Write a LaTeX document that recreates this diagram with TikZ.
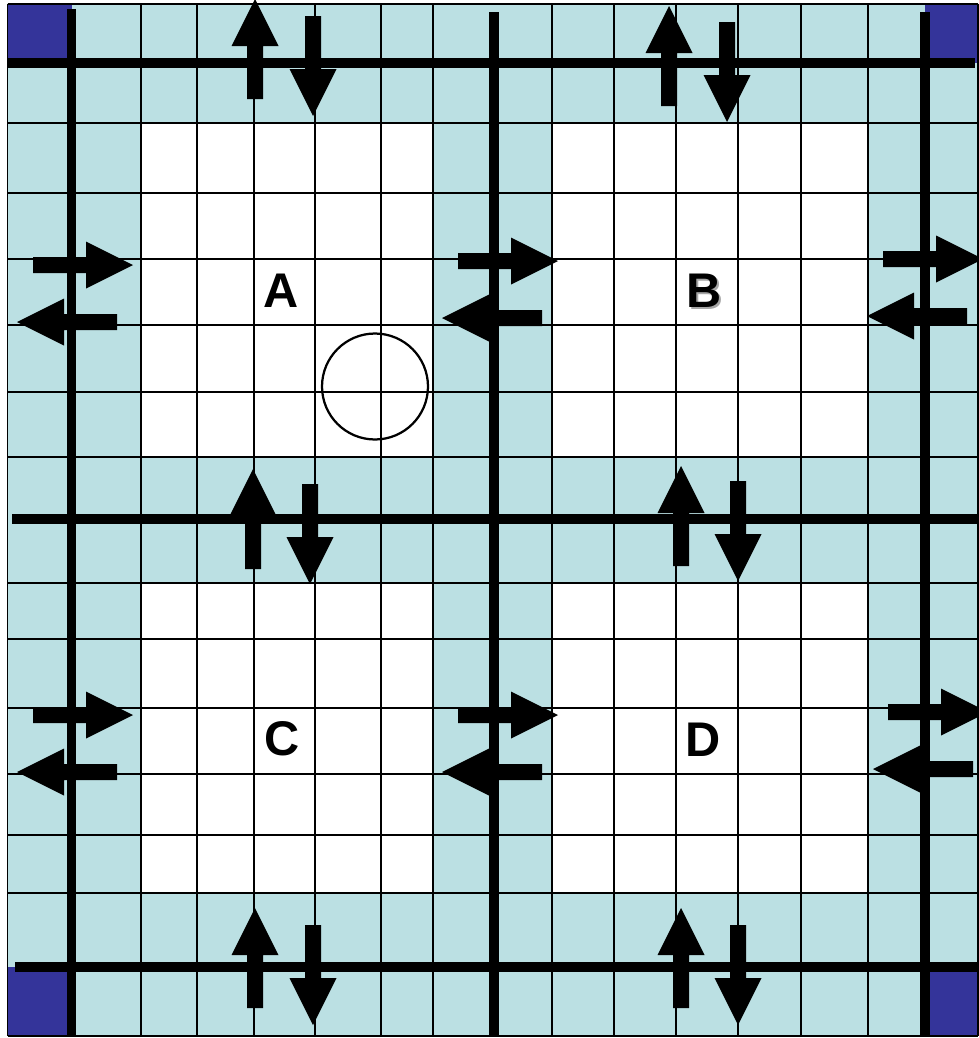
\documentclass[tikz,border=0pt]{standalone}
\usepackage{fontspec}
\setmainfont{Liberation Sans}
\usepackage{xcolor}
\definecolor{cellblue}{RGB}{187,224,227}
\definecolor{cornerblue}{RGB}{52,52,154}

\begin{document}
\begin{tikzpicture}[x=0.02cm, y=-0.02cm,
    gridline/.style={line width=0.04cm},
    wall/.style={line width=0.2cm},
    lbl/.style={font=\fontsize{27.7}{30}\selectfont\bfseries, inner sep=0pt},
    blk/.pic={\fill (0,-8) -- (53,-8) -- (53,-23.5) -- (100,0) -- (53,23.5) -- (53,8) -- (0,8) -- cycle;}
]
\useasboundingbox (0,0) rectangle (979,1038);
\clip (0,0) rectangle (979,1038);

% cells
\fill[cellblue] (7.5,3.5) rectangle (978,1036);
\fill[white] (141,122.7) rectangle (433,457);
\fill[white] (552,122.7) rectangle (868,457);
\fill[white] (141,582.7) rectangle (433,893);
\fill[white] (552,582.7) rectangle (868,893);

% corner cells
\fill[cornerblue] (7.5,3.5) rectangle (71.5,62.7);
\fill[cornerblue] (925,3.5) rectangle (978,62.7);
\fill[cornerblue] (7.5,966.7) rectangle (71.5,1036);
\fill[cornerblue] (925,966.7) rectangle (978,1036);

% thin grid
\foreach \x in {7.5,141,197,254,315,381,433,552,614,676,738,801,868,978}
  \draw[gridline] (\x,3.5) -- (\x,1036);
\foreach \y in {3.5,122.7,193,259,325,391.7,457,582.7,638.7,708,774,835,893,1036}
  \draw[gridline] (7.5,\y) -- (978,\y);

% thick walls
\draw[wall] (8,62.7) -- (975,62.7);
\draw[wall] (12,519) -- (979,519);
\draw[wall] (15,966.7) -- (979,966.7);
\draw[wall] (71.5,9) -- (71.5,1036);
\draw[wall] (494,12) -- (494,1036);
\draw[wall] (925,12) -- (925,1036);

% the circle
\node[circle, draw, line width=0.045cm, minimum size=2.12cm, inner sep=0pt] (hole) at (375,386.5) {};

% labels
\node[lbl] (A) at (281,290.5) {A};
\node[lbl, text=gray!70] (Bshade) at (706,292.5) {B};
\node[lbl] (B) at (704,290.5) {B};
\node[lbl] (C) at (282,738.5) {C};
\node[lbl] (D) at (703.5,739.5) {D};

% block arrows
\foreach \p in {(255,99),(669,106),(253,569),(681,566),(255,1008),(681,1008)}
  \pic[rotate=90] at \p {blk};
\foreach \p in {(313,16),(727,22),(310,484),(738,481),(313,925),(738,925)}
  \pic[rotate=-90] at \p {blk};
\foreach \p in {(33,265),(33,715),(458,261),(458,715),(883,259),(888,712)}
  \pic at \p {blk};
\foreach \p in {(117,322),(117,772),(542,318),(542,772),(967,316),(973,769)}
  \pic[rotate=180] at \p {blk};

\end{tikzpicture}
\end{document}
